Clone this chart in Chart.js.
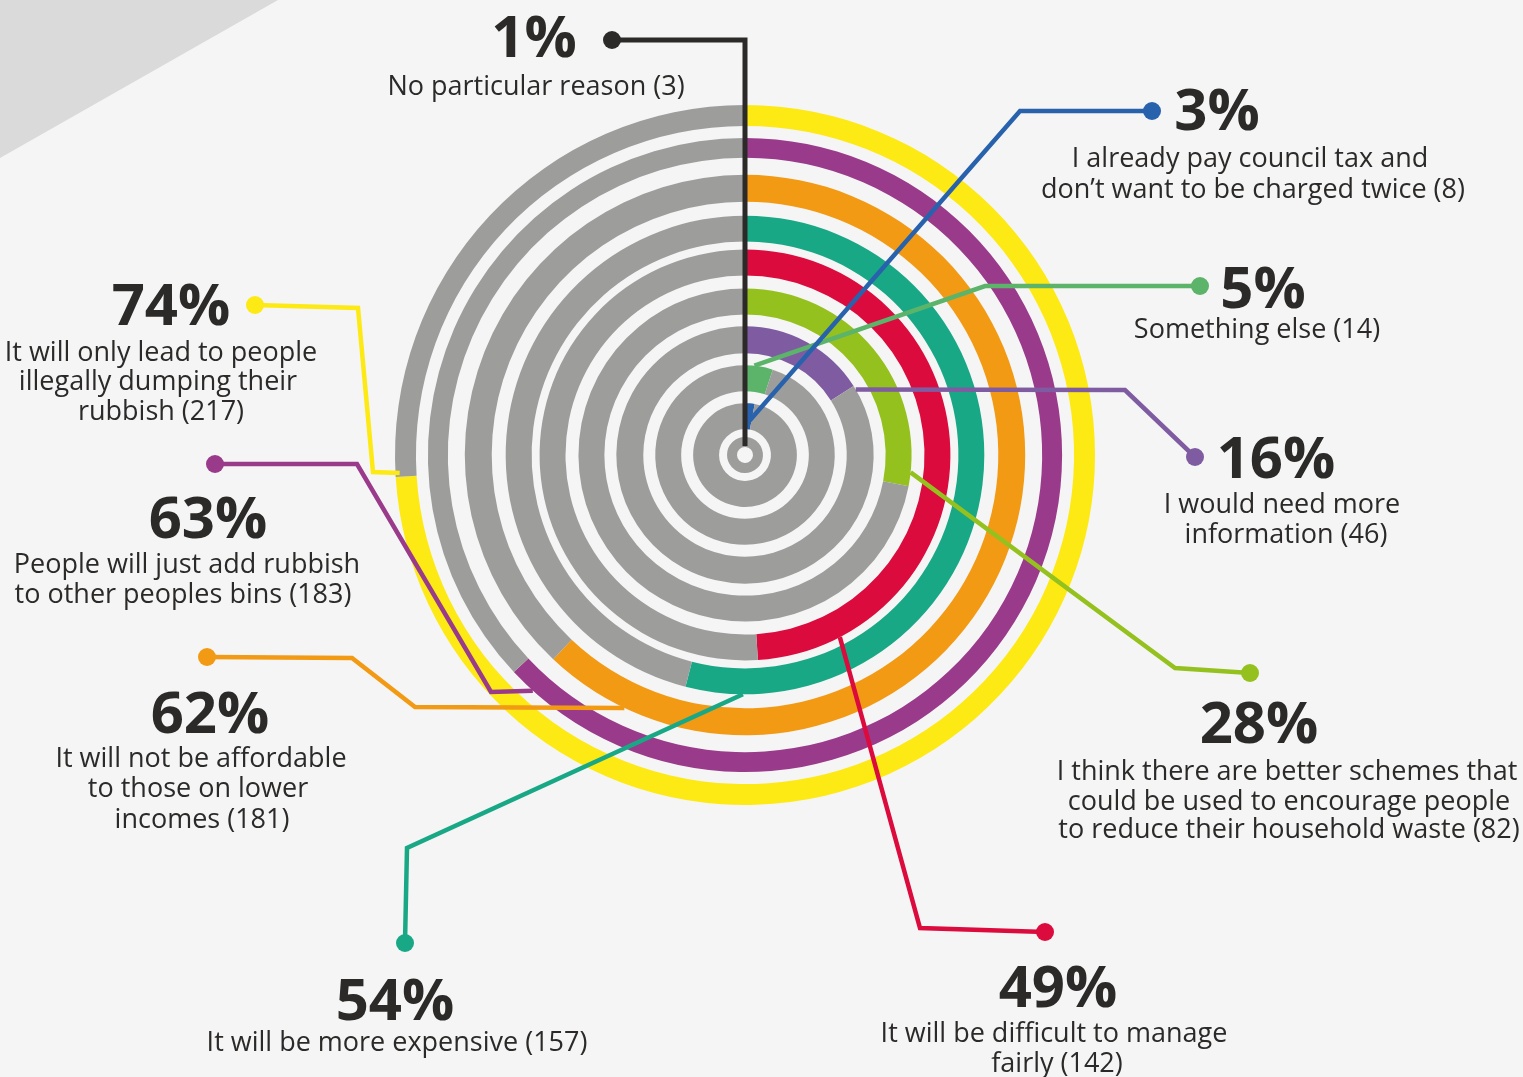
<!DOCTYPE html>
<html>
<head>
<meta charset="utf-8">
<title>Reasons for not supporting a waste charge</title>
<script src="https://cdn.jsdelivr.net/npm/chart.js@4.4.1/dist/chart.umd.min.js"></script>
<style>
  html, body { margin: 0; padding: 0; background: #f5f5f5; overflow: hidden; }
  #wrap { position: relative; width: 1523px; height: 1077px; }
</style>
</head>
<body>
<div id="wrap"><canvas id="rings"></canvas></div>
<script>
// Rings are listed from the outside in
const reasonLines = [
  ['It will only lead to people', 'illegally dumping their', 'rubbish'],
  ['People will just add rubbish', 'to other peoples bins'],
  ['It will not be affordable', 'to those on lower', 'incomes'],
  ['It will be more expensive'],
  ['It will be difficult to manage', 'fairly'],
  ['I think there are better schemes that', 'could be used to encourage people', 'to reduce their household waste'],
  ['I would need more', 'information'],
  ['Something else'],
  ['I already pay council tax and', 'don\u2019t want to be charged twice'],
  ['No particular reason']
];
const percents = [74, 63, 62, 54, 49, 28, 16, 5, 3, 1];
const counts = [217, 183, 181, 157, 142, 82, 46, 14, 8, 3];

const ringColors = ['#fde914', '#9a3a8b', '#f39a15', '#19a886', '#dc0b3d',
                    '#95c11f', '#7f5ca2', '#5bb46a', '#2862ad', '#2b2a29'];
const restColor = '#9d9d9c';

// ring thickness and the gap under each ring, px
const ringWidth = [21, 20, 27, 26, 26, 26, 27, 26, 26, 10];
const ringGap = [12, 17, 14, 8, 13, 12, 12, 12, 8, 0];

// callouts: where the leader leaves the ring, its bends, the dot and the text
const callouts = [
  { from: [267, 0.8], path: [[373, 472], [358, 308]], dot: [255, 305],
    pct: [171, 325], text: [[161, 361], [158, 390], [161, 420]] },
  { from: [222, 1], path: [[491, 692], [357, 464]], dot: [215, 464],
    pct: [208, 538], text: [[187, 573], [183, 603]] },
  { from: [205.5, 1], path: [[415, 707], [352, 658]], dot: [207, 657],
    pct: [210, 733], text: [[201, 767], [198, 797], [202, 828]] },
  { from: [180.5, 1], path: [[407, 848]], dot: [405, 943],
    pct: [395, 1020], text: [[397, 1051]] },
  { from: [152.5, 1], path: [[920, 928]], dot: [1045, 932],
    pct: [1058, 1007], text: [[1054, 1042], [1057, 1072]] },
  { from: [96, 1], path: [[1175, 668]], dot: [1250, 673],
    pct: [1259, 743], text: [[1287, 780], [1289, 810], [1289, 838]] },
  { from: [59.4, 1], path: [[1125, 390]], dot: [1195, 457],
    pct: [1276, 478], text: [[1282, 513], [1286, 543]] },
  { from: [6, 1], path: [[985, 286]], dot: [1200, 286],
    pct: [1263, 308], text: [[1257, 338]] },
  { from: [3, 0.2], path: [[1020, 111]], dot: [1152, 111],
    pct: [1217, 130], text: [[1250, 167], [1253, 198]] },
  { from: [0, 0.1], path: [[745, 40]], dot: [612, 40],
    pct: [534, 57], text: [[536, 95]] }
];

const datasets = [];
percents.forEach((p, i) => {
  datasets.push({
    data: [p, 100 - p],
    backgroundColor: [ringColors[i], restColor],
    borderWidth: 0,
    weight: ringWidth[i]
  });
  if (ringGap[i] > 0) {
    datasets.push({
      data: [1],
      backgroundColor: ['rgba(0,0,0,0)'],
      borderWidth: 0,
      weight: ringGap[i]
    });
  }
});

const calloutPlugin = {
  id: 'callouts',
  beforeDraw(chart) {
    const ctx = chart.ctx;
    ctx.save();
    ctx.fillStyle = '#f5f5f5';
    ctx.fillRect(0, 0, chart.width, chart.height);
    ctx.fillStyle = '#dadada';
    ctx.beginPath();
    ctx.moveTo(0, 0);
    ctx.lineTo(278, 0);
    ctx.lineTo(0, 158);
    ctx.closePath();
    ctx.fill();
    ctx.restore();
  },
  afterDatasetsDraw(chart) {
    const ctx = chart.ctx;
    ctx.save();
    callouts.forEach((c, i) => {
      const arc = chart.getDatasetMeta(i * 2).data[0];
      const a = c.from[0] * Math.PI / 180;
      const r = arc.innerRadius + c.from[1] * (arc.outerRadius - arc.innerRadius);
      const sx = arc.x + r * Math.sin(a);
      const sy = arc.y - r * Math.cos(a);

      ctx.strokeStyle = ringColors[i];
      ctx.fillStyle = ringColors[i];
      ctx.lineWidth = i === 9 ? 5 : 4.5;
      ctx.lineJoin = 'miter';
      ctx.beginPath();
      ctx.moveTo(sx, sy);
      c.path.forEach(pt => ctx.lineTo(pt[0], pt[1]));
      ctx.lineTo(c.dot[0], c.dot[1]);
      ctx.stroke();
      ctx.beginPath();
      ctx.arc(c.dot[0], c.dot[1], 9, 0, Math.PI * 2);
      ctx.fill();

      ctx.fillStyle = '#2b2a29';
      ctx.textAlign = 'center';
      ctx.textBaseline = 'alphabetic';
      ctx.font = 'bold 58px "Open Sans"';
      ctx.fillText(percents[i] + '%', c.pct[0], c.pct[1]);
      ctx.font = '27px "Open Sans"';
      const lines = reasonLines[i].slice();
      lines[lines.length - 1] += ' (' + counts[i] + ')';
      lines.forEach((t, k) => ctx.fillText(t, c.text[k][0], c.text[k][1]));
    });
    ctx.restore();
  }
};

new Chart(document.getElementById('rings'), {
  type: 'doughnut',
  data: { labels: ['Selected', 'Other'], datasets: datasets },
  options: {
    responsive: true,
    maintainAspectRatio: false,
    animation: false,
    events: [],
    radius: 350,
    cutout: 8,
    layout: { padding: { left: 395, top: 105, right: 428, bottom: 272 } },
    plugins: {
      legend: { display: false },
      tooltip: { enabled: false }
    }
  },
  plugins: [calloutPlugin]
});
</script>
</body>
</html>
